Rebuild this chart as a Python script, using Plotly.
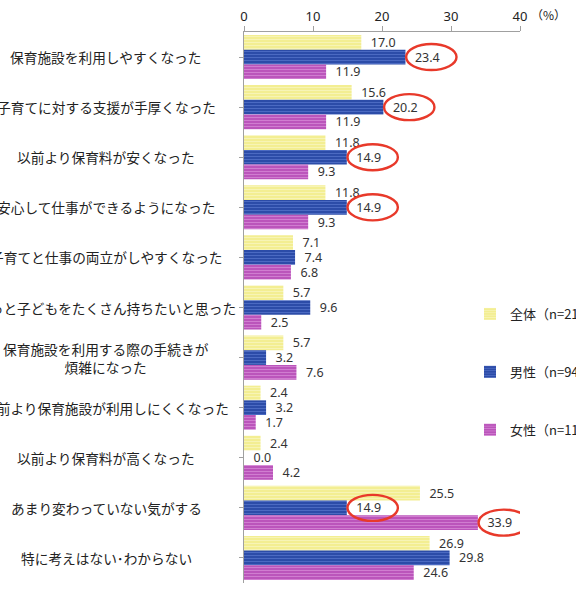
import plotly.graph_objects as go

categories = [
    "保育施設を利用しやすくなった",
    "子育てに対する支援が手厚くなった",
    "以前より保育料が安くなった",
    "安心して仕事ができるようになった",
    "子育てと仕事の両立がしやすくなった",
    "もっと子どもをたくさん持ちたいと思った",
    "保育施設を利用する際の手続きが<br>煩雑になった",
    "以前より保育施設が利用しにくくなった",
    "以前より保育料が高くなった",
    "あまり変わっていない気がする",
    "特に考えはない･わからない",
]
series_names = ["全体（n=212）", "男性（n=94）", "女性（n=118）"]
total = [17.0, 15.6, 11.8, 11.8, 7.1, 5.7, 5.7, 2.4, 2.4, 25.5, 26.9]
male = [23.4, 20.2, 14.9, 14.9, 7.4, 9.6, 3.2, 3.2, 0.0, 14.9, 29.8]
female = [11.9, 11.9, 9.3, 9.3, 6.8, 2.5, 7.6, 1.7, 4.2, 33.9, 24.6]
x_ticks = [0, 10, 20, 30, 40]
# highlighted (category index, series index)
highlights = [(0, 1), (1, 1), (2, 1), (3, 1), (9, 1), (9, 2)]

series_values = [total, male, female]
bg_colors = ["#f3ee92", "#2c4ca8", "#bb55bb"]
fg_colors = ["#fbf9d8", "#6a88dc", "#e6a6e6"]

W, H = 576, 591
ml, mr, mt, mb = 244, 56, 32, 8

fig = go.Figure()
idx = list(range(len(categories)))
for i, (name, vals) in enumerate(zip(series_names, series_values)):
    fig.add_trace(go.Bar(
        y=idx, x=vals, orientation="h", name=name,
        legendgroup=f"g{i}",
        marker=dict(color=bg_colors[i], line=dict(width=0),
                    pattern=dict(shape="-", fgcolor=fg_colors[i], bgcolor=bg_colors[i],
                                 size=3, solidity=0.35, fillmode="overlay")),
        text=[f"\u00a0\u00a0{v:.1f}" for v in vals],
        textposition="outside", cliponaxis=False, constraintext="none",
        textfont=dict(size=12.5, color="#333333", family="Noto Sans, Noto Sans CJK JP"),
    ))

# category labels, centered to the left of the plot
for k, c in enumerate(categories):
    fig.add_annotation(x=-(ml - 106) / (W - ml - mr), xref="paper", y=k, yref="y",
                       text=c, showarrow=False, xanchor="center", yanchor="middle",
                       font=dict(size=13.7, color="#222222", family="Noto Sans CJK JP"))

# red ellipses around highlighted labels
offsets = [-0.295, 0.0, 0.295]
for (k, s) in highlights:
    v = series_values[s][k]
    yc = k + offsets[s]
    fig.add_shape(type="circle", xref="x", yref="y",
                  x0=v + 0.1, x1=v + 7.4, y0=yc - 0.26, y1=yc + 0.26,
                  line=dict(color="#e8392a", width=2.4))

fig.add_annotation(xref="paper", x=(548 - ml) / (W - ml - mr),
                   yref="paper", y=1 + (mt - 14) / (H - mt - mb),
                   yanchor="middle", xanchor="center", showarrow=False, text="（%）",
                   font=dict(size=12, color="#222222", family="Noto Sans CJK JP"))

fig.update_layout(
    width=W, height=H,
    margin=dict(l=ml, r=mr, t=mt, b=mb, autoexpand=False),
    paper_bgcolor="white", plot_bgcolor="white",
    barmode="group", bargap=0.12, bargroupgap=0,
    font=dict(family="Noto Sans CJK JP", color="#222222"),
    legend=dict(x=(470 - ml) / (W - ml - mr), xanchor="left",
                y=1 - (299 - mt) / (H - mt - mb), yanchor="top",
                traceorder="grouped", tracegroupgap=38, itemwidth=30,
                font=dict(size=13, color="#222222"), bgcolor="rgba(0,0,0,0)"),
    xaxis=dict(side="top", range=[0, 40], tickvals=x_ticks, showgrid=False,
               zeroline=False, showline=True, linecolor="#a0a0a0", linewidth=1,
               ticks="outside", ticklen=5, tickcolor="#a0a0a0",
               tickfont=dict(size=13, color="#222222", family="Noto Sans")),
    yaxis=dict(range=[len(categories) - 0.5, -0.5], tickmode="array", tickvals=idx,
               showticklabels=False, showgrid=False, zeroline=False,
               showline=True, linecolor="#a0a0a0", linewidth=1,
               ticks="outside", ticklen=4, tickcolor="#a0a0a0", tickson="boundaries"),
)

fig.write_html("out.html")
